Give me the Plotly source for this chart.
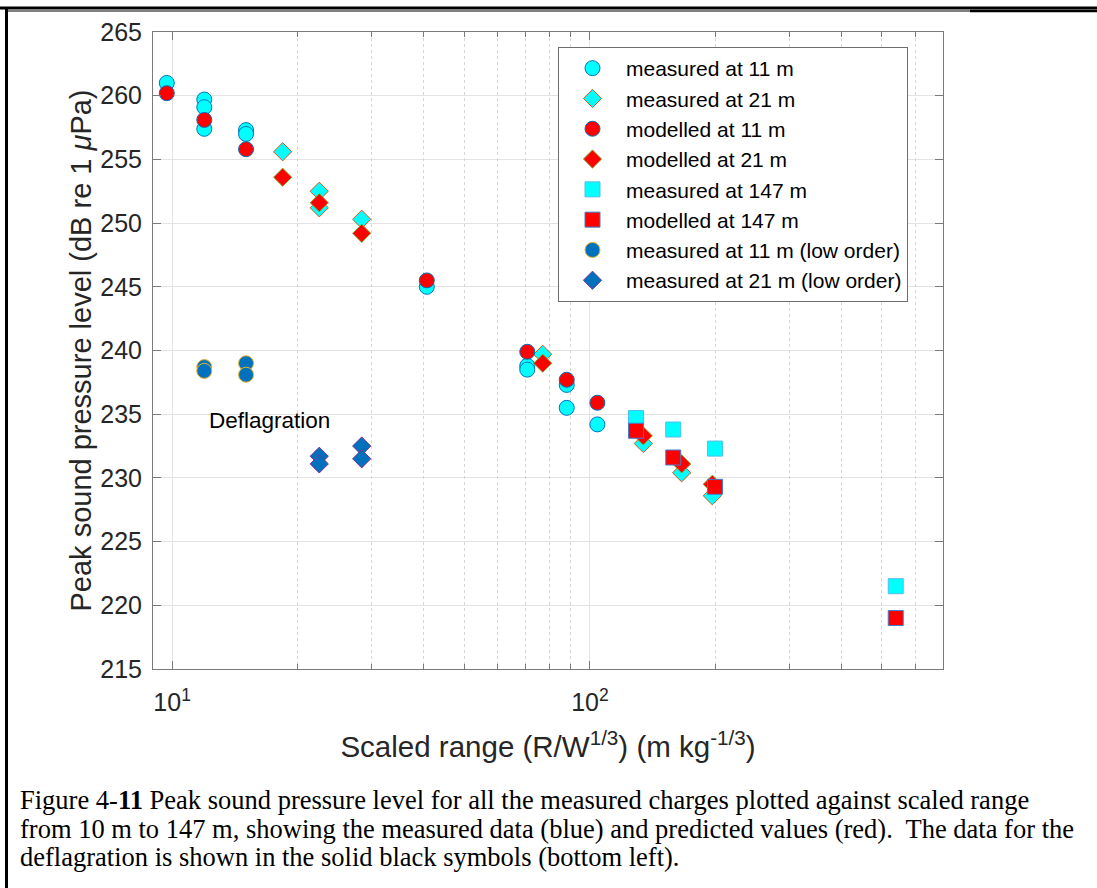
import math
import plotly.graph_objects as go

# ---- data: scaled range (m kg^-1/3) and peak SPL (dB re 1 uPa) ----
meas11_x = [9.71, 11.94, 11.94, 11.94, 15.03, 15.03, 40.7, 70.8, 70.8, 88.0, 88.0, 104.2]
meas11_y = [261.0, 259.7, 259.1, 257.4, 257.3, 257.0, 245.0, 238.8, 238.5, 237.3, 235.5, 234.2]

meas21_x = [18.39, 22.5, 22.5, 28.43, 77.1, 134.2, 165.8, 196.3]
meas21_y = [255.6, 252.5, 251.2, 250.3, 239.7, 232.7, 230.4, 228.6]

mod11_x = [9.71, 11.94, 15.03, 40.7, 70.8, 88.0, 104.2]
mod11_y = [260.2, 258.1, 255.8, 245.5, 239.9, 237.7, 235.9]

mod21_x = [18.39, 22.5, 28.43, 77.1, 134.2, 165.8, 196.3]
mod21_y = [253.6, 251.6, 249.2, 239.0, 233.3, 231.1, 229.5]

meas147_x = [128.9, 158.3, 199.3, 539.5]
meas147_y = [234.7, 233.8, 232.3, 221.5]

mod147_x = [128.9, 158.3, 199.3, 539.5]
mod147_y = [233.7, 231.6, 229.3, 219.0]

low11_x = [11.94, 11.94, 15.03, 15.03]
low11_y = [238.7, 238.4, 239.0, 238.1]

low21_x = [22.5, 22.5, 28.43, 28.43]
low21_y = [231.7, 231.1, 232.5, 231.5]

x_range = [9, 700]
y_range = [215, 265]
y_ticks = list(range(215, 266, 5))
x_major = [10, 100]
x_major_text = ["10<sup>1</sup>", "10<sup>2</sup>"]
x_minor = [20, 30, 40, 50, 60, 70, 80, 90, 200, 300, 400, 500, 600]

CYAN = "#00FFFF"
RED = "#FF0000"
DBLUE = "#0072BD"

series = [
    ("measured at 11 m", meas11_x, meas11_y, "circle", 15, CYAN, DBLUE),
    ("measured at 21 m", meas21_x, meas21_y, "diamond", 14, CYAN, "#D95319"),
    ("modelled at 11 m", mod11_x, mod11_y, "circle", 15, RED, DBLUE),
    ("modelled at 21 m", mod21_x, mod21_y, "diamond", 14, RED, "#77AC30"),
    ("measured at 147 m", meas147_x, meas147_y, "square", 15, CYAN, "#4DBEEE"),
    ("modelled at 147 m", mod147_x, mod147_y, "square", 15, RED, "#3F7FD0"),
    ("measured at 11 m (low order)", low11_x, low11_y, "circle", 15, DBLUE, "#EDB120"),
    ("measured at 21 m (low order)", low21_x, low21_y, "diamond", 14, DBLUE, "#7E2F8E"),
]

# ---- page geometry (pixels) ----
W, H = 1097, 888
ML, MR, MT, MB = 153, 154, 32, 219
PW, PH = W - ML - MR, H - MT - MB


def px(x):
    return (x - ML) / PW


def py(y):
    return (H - MB - y) / PH


fig = go.Figure()
for name, xs, ys, sym, size, fill, edge in series:
    fig.add_trace(go.Scatter(
        x=xs, y=ys, mode="markers", name=name,
        marker=dict(symbol=sym, size=size, color=fill,
                    line=dict(color=edge, width=1)),
    ))

AX = "#7a7a7a"
TXT = "#262626"
FONT = "Liberation Sans, Arial, sans-serif"

fig.update_layout(
    width=W, height=H, autosize=False,
    margin=dict(l=ML, r=MR, t=MT, b=MB, pad=0),
    paper_bgcolor="white", plot_bgcolor="white",
    font=dict(family=FONT, color=TXT, size=25),
    showlegend=True,
    legend=dict(
        x=px(558), y=py(47), xanchor="left", yanchor="top",
        bgcolor="white", bordercolor="#6e6e6e", borderwidth=1,
        font=dict(family=FONT, size=21, color="#000000"),
        tracegroupgap=0, itemsizing="trace", itemwidth=57,
    ),
    xaxis=dict(
        type="log", range=[math.log10(x_range[0]), math.log10(x_range[1])],
        tickvals=x_major, ticktext=x_major_text,
        ticks="inside", ticklen=8, tickcolor=AX, tickwidth=1,
        showline=True, linecolor=AX, linewidth=1, mirror="ticks",
        showgrid=True, gridcolor="#e3e3e3", gridwidth=1,
        zeroline=False, ticklabelstandoff=11,
        tickfont=dict(size=25, color=TXT),
        title=dict(text="Scaled range (R/W<sup>1/3</sup>) (m kg<sup>-1/3</sup>)",
                   font=dict(size=29.5, color=TXT), standoff=21),
    ),
    xaxis2=dict(
        type="log", overlaying="x", anchor="y",
        range=[math.log10(x_range[0]), math.log10(x_range[1])],
        tickvals=x_minor, showticklabels=False,
        ticks="inside", ticklen=5, tickcolor=AX, tickwidth=1,
        showline=False, mirror="ticks", side="bottom",
        showgrid=True, gridcolor="#d6d6d6", gridwidth=1, griddash="dot",
        zeroline=False,
    ),
    yaxis=dict(
        range=y_range, tickvals=y_ticks,
        ticks="inside", ticklen=8, tickcolor=AX, tickwidth=1,
        showline=True, linecolor=AX, linewidth=1, mirror="ticks",
        showgrid=True, gridcolor="#e3e3e3", gridwidth=1,
        zeroline=False, ticklabelstandoff=5,
        tickfont=dict(size=25, color=TXT),
        title=dict(text="Peak sound pressure level (dB re 1 <i>\u03bc</i>Pa)",
                   font=dict(size=29, color=TXT), standoff=0),
    ),
)

# keep the overlay axis drawn
fig.add_trace(go.Scatter(x=[x_range[0]], y=[y_range[0]], xaxis="x2", yaxis="y",
                         mode="markers", marker=dict(opacity=0), showlegend=False,
                         hoverinfo="skip"))

fig.add_annotation(x=math.log10(12.1), y=234.5, xref="x", yref="y",
                   text="Deflagration", showarrow=False, xanchor="left",
                   yanchor="middle", font=dict(family=FONT, size=22.5, color="#000000"))

caption = [
    "Figure 4-<b>11</b> Peak sound pressure level for all the measured charges plotted against scaled range",
    "from 10 m to 147 m, showing the measured data (blue) and predicted values (red).  The data for the",
    "deflagration is shown in the solid black symbols (bottom left).",
]
for i, line in enumerate(caption):
    fig.add_annotation(x=px(18), y=py(800 + i * 28.5), xref="paper", yref="paper",
                       text=line, showarrow=False, xanchor="left", yanchor="middle",
                       font=dict(family="Liberation Serif, Times New Roman, serif",
                                 size=26.5, color="#000000"))

# page rules of the surrounding document
rules = [
    (0, 8, W, 8, 3),
    (7, 11, 970, 11, 1.2),
    (970, 11, W, 11, 2.5),
    (6.5, 9, 6.5, H, 3),
]
for x0, y0, x1, y1, w in rules:
    fig.add_shape(type="line", xref="paper", yref="paper",
                  x0=px(x0), y0=py(y0), x1=px(x1), y1=py(y1),
                  line=dict(color="black", width=w), layer="above")

fig.write_html("out.html")
